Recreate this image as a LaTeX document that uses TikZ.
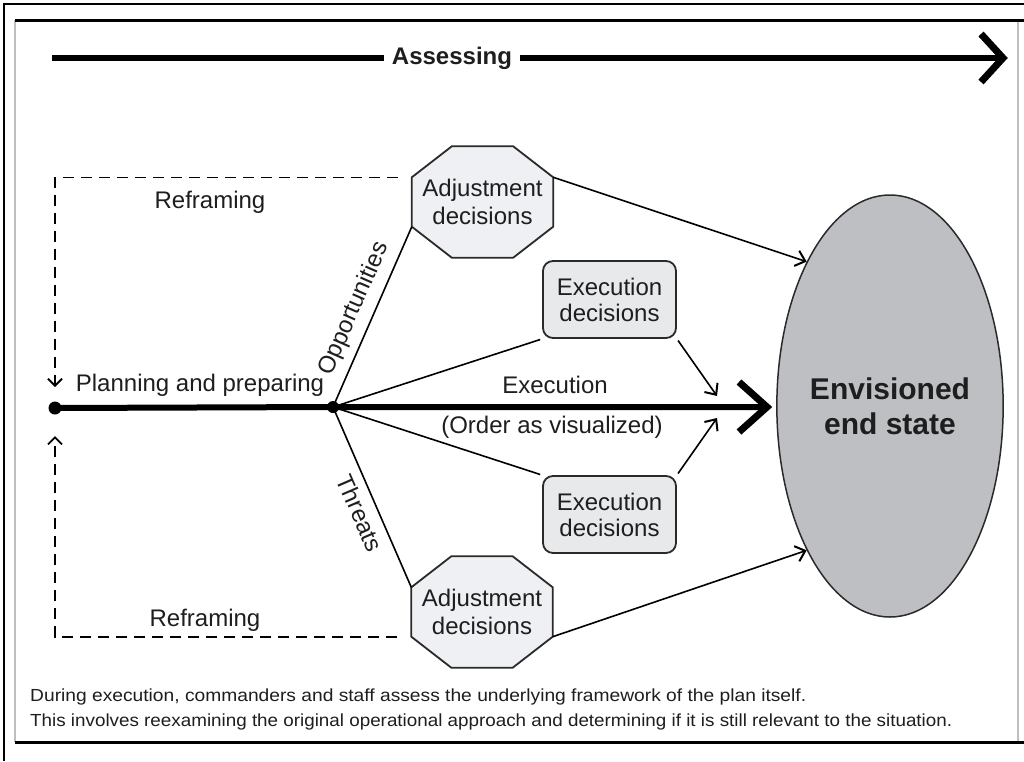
\documentclass[tikz,border=0pt]{standalone}
\usepackage{fontspec}
\setmainfont{Liberation Sans}
\usetikzlibrary{arrows.meta,calc,shapes.geometric,backgrounds}
\definecolor{octfill}{HTML}{EEF0F3}
\definecolor{exfill}{HTML}{E8E9EB}
\definecolor{ellfill}{HTML}{BDBFC2}
\definecolor{edge}{HTML}{2A2A2A}
\definecolor{txt}{HTML}{1E1E1E}
\begin{document}
\begin{tikzpicture}[x=1pt,y=-1pt,
  lbl/.style={font=\fontsize{24}{28}\selectfont, text=txt, inner sep=0pt},
  octnode/.style={lbl, minimum width=141pt, minimum height=111pt, align=center},
  exbox/.style={lbl, draw=edge, line width=1.8pt, fill=exfill, rounded corners=10pt, minimum width=133pt, minimum height=77pt, align=center, font=\fontsize{24}{26}\selectfont},
  octline/.style={draw=edge, line width=1.8pt, fill=octfill},
  conn/.style={line width=1.6pt, draw=black},
  thinarrow/.style={conn, -{Straight Barb[length=9pt,width=16pt,line width=2pt]}},
  dashline/.style={line width=1.6pt, dash pattern=on 11pt off 7pt, -{Straight Barb[length=7pt,width=14pt,line width=1.8pt]}},
  bigline/.style={line width=6pt},
  chev/.style={line width=7pt, line join=miter},
  dot/.style={circle, fill=black, inner sep=0pt, minimum size=13pt},
  frame/.style={line width=2pt},
  gframe/.style={line width=1.2pt, draw=gray!50},
]
\useasboundingbox (0,0) rectangle (1024,761);

% frame
\draw[frame] (4,761) -- (4,4) -- (1024,4);
\draw[gframe] (15,20) -- (15,742);
\draw[gframe] (1018,20) -- (1018,742);
\draw[line width=3pt] (15,20) -- (1024,20);
\draw[line width=3pt] (15,742) -- (1024,742);

% nodes
\node[octnode] (adjU) at (482.5,202) {Adjustment\\decisions};
\node[octnode] (adjL) at (482,612) {Adjustment\\decisions};
\node[exbox] (exU) at (609.5,299.5) {Execution\\decisions};
\node[exbox] (exL) at (609.5,514.5) {Execution\\decisions};
\node[ellipse, draw=edge, line width=1.5pt, fill=ellfill, minimum width=215pt, minimum height=422pt, inner sep=0pt, align=center, font=\bfseries\fontsize{30}{35}\selectfont, text=txt] (ell) at (890,406) {Envisioned\\end state};

\foreach \n in {adjU,adjL}{
  \coordinate (\n-ul) at ($(\n.north west)+(0,31)$);
  \coordinate (\n-ll) at ($(\n.south west)+(0,-31)$);
  \coordinate (\n-ur) at ($(\n.north east)+(0,31)$);
  \coordinate (\n-lr) at ($(\n.south east)+(0,-31)$);
}

\begin{pgfonlayer}{background}
  \fill[white] (0,0) rectangle (1024,761);
  \foreach \n in {adjU,adjL}{
    \path[octline] ($(\n.north west)+(40,0)$) -- ($(\n.north east)+(-40,0)$) -- (\n-ur) -- (\n-lr)
      -- ($(\n.south east)+(-40,0)$) -- ($(\n.south west)+(40,0)$) -- (\n-ll) -- (\n-ul) -- cycle;
  }
\end{pgfonlayer}

% main line
\node[dot] (P) at (55,408) {};
\node[dot, minimum size=12pt] (J) at (333,407) {};
\coordinate (E) at (767,407);
\coordinate (tU) at (717,396);
\coordinate (tL) at (717,418);
\draw[bigline] (P.center) -- (J.center) -- ($(E)+(-4,0)$);
\draw[chev] ($(E)+(-28,-25)$) -- (E) -- ($(E)+(-28,25)$);

% assessing arrow
\coordinate (A0) at (52,58);
\coordinate (A1) at (1003,58);
\draw[bigline] (A0) -- (A1);
\draw[chev] ($(A1)+(-22,-24)$) -- (A1) -- ($(A1)+(-22,24)$);
\node[fill=white, text=txt, font=\bfseries\fontsize{24}{28}\selectfont, inner xsep=8pt, inner ysep=2pt] (assess) at (452,58) {Assessing};

% connectors
\draw[conn] (J.center) -- node[pos=0.5, sloped, above=8pt, lbl] (opp) {Opportunities} (adjU-ll);
\draw[conn] (J.center) -- node[pos=0.55, sloped, below=8pt, lbl] (thr) {Threats} (adjL-ul);
\draw[conn, shorten >=2pt] (J.center) -- (exU.south west);
\draw[conn, shorten >=2pt] (J.center) -- (exL.north west);
\draw[thinarrow, shorten <=2pt] (exU.south east) -- (tU);
\draw[thinarrow, shorten <=2pt] (exL.north east) -- (tL);
\draw[thinarrow] (adjU-ur) -- (ell.120.5);
\draw[thinarrow] (adjL-lr) -- (ell.240);

% reframing loops
\draw[dashline] ($(adjU-ul)+(-14,0)$) -| ($(P)+(0,-21)$);
\draw[dashline] ($(adjL-ll)+(-14,0)$) -| ($(P)+(0,28)$);

% labels
\node[lbl] (ref1) at (210,202) {Reframing};
\node[lbl] (ref2) at (205,620) {Reframing};
\node[lbl] (plan) at (200,385) {Planning and preparing};
\node[lbl] (exec) at (555,385) {Execution};
\node[lbl] (order) at (552,427) {(Order as visualized)};

% caption
\node[anchor=west, inner sep=0pt, text=txt, font=\fontsize{17.5}{20}\selectfont] (cap1) at (30,697)
  {\resizebox{776pt}{\height}{During execution, commanders and staff assess the underlying framework of the plan itself.}};
\node[anchor=west, inner sep=0pt, text=txt, font=\fontsize{17.5}{20}\selectfont] (cap2) at (30,722)
  {\resizebox{922pt}{\height}{This involves reexamining the original operational approach and determining if it is still relevant to the situation.}};
\end{tikzpicture}
\end{document}
